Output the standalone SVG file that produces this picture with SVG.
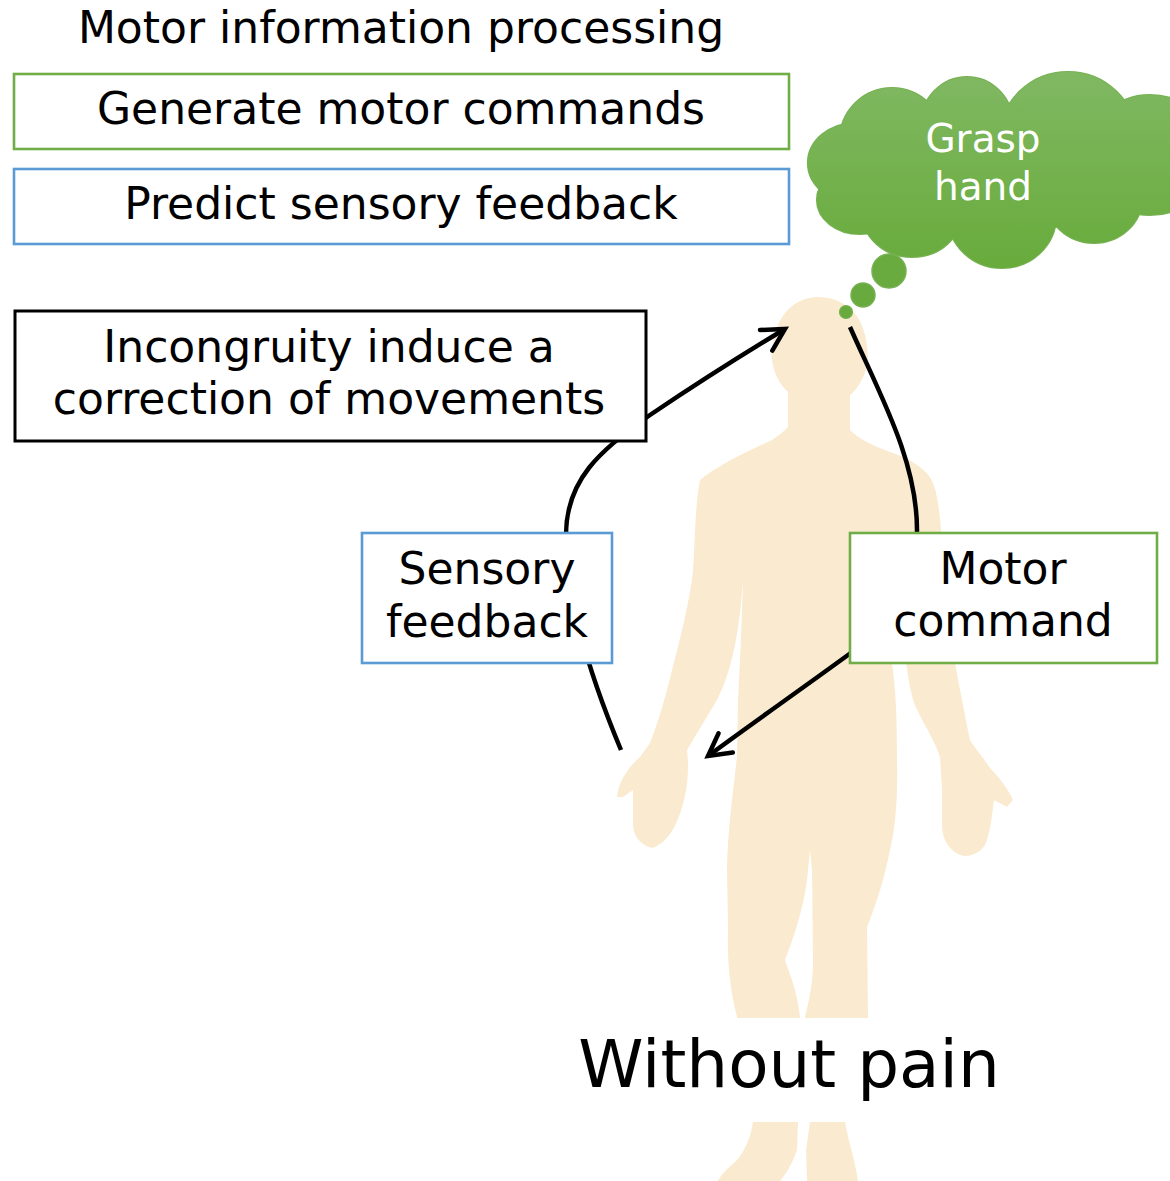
<svg xmlns="http://www.w3.org/2000/svg" width="1170" height="1181" viewBox="0 0 1170 1181">
  <style>
    text { font-family: "DejaVu Sans", Verdana, sans-serif; fill: #000; text-anchor: middle; }
    .lbl { font-size: 44px; }
    .big { font-size: 66px; }
    .cloudtxt { font-size: 39px; fill: #fff; }
    .box { fill: #fff; }
    .green { stroke: #70AD47; stroke-width: 2.6; }
    .blue { stroke: #5B9BD5; stroke-width: 2.6; }
    .black { stroke: #000; stroke-width: 3; }
    .wire { fill: none; stroke: #000; stroke-width: 4.5; stroke-linecap: butt; }
    .lobe-edge { fill: none; stroke: #76B153; stroke-width: 2.2; }
    .lobe { fill: url(#cloudFill); stroke: none; }
  </style>
  <defs>
    <linearGradient id="cloudFill" gradientUnits="userSpaceOnUse" x1="0" y1="72" x2="0" y2="270">
      <stop offset="0" stop-color="#80B862"/>
      <stop offset="1" stop-color="#68AB3B"/>
    </linearGradient>
    <marker id="open-arrow" markerUnits="userSpaceOnUse" markerWidth="40" markerHeight="40" refX="0" refY="0" viewBox="-30 -20 40 40" orient="auto" overflow="visible">
      <path d="M -22,-12 L 0,0 L -22,12" fill="none" stroke="#000" stroke-width="4.5" stroke-linecap="round" stroke-linejoin="miter"/>
    </marker>
  </defs>

  <rect width="1170" height="1181" fill="#fff"/>

  <!-- human figure -->
  <g id="body">
    <path fill="#FAEBD0" d="M818,297
      C842,297 860,312 865,335 C868,350 870,362 865,372 C862,382 856,390 850,395
      L850,430 C858,438 872,446 893,453 C912,460 928,470 933,483
      C940,500 942,540 944,575 C946,620 958,680 970,740
      C978,752 985,760 990,768 C1000,778 1010,792 1013,800 L1007,807 L994,800
      C992,815 990,835 985,845 C980,853 970,858 960,855 C948,850 942,838 942,825
      L942,790 L940,757 C935,740 918,715 913,700 C905,670 903,630 901,600
      C896,605 892,610 888,612 L892,663 C896,690 897,720 897,760
      C898,800 895,830 890,850 C885,875 878,900 867,927 L868,1017
      C868,1060 860,1100 845,1122 C848,1140 855,1160 858,1181
      L807,1181 L806,1150 L810,1122 L806,1040 L805,1017
      C809,1000 813,985 813,960 L812,870 L810,850 L808,870
      C806,900 795,935 785,960 C790,975 797,990 800,1017
      L798,1122 L797,1150 C792,1165 785,1175 780,1181 L718,1181
      C722,1172 732,1165 737,1160 C745,1150 750,1140 753,1122
      C745,1090 738,1050 737,1017 C730,990 727,960 728,930 L727,867
      C728,830 732,800 737,757 L738,700 C740,660 742,620 743,580
      C740,620 735,665 717,700 L687,750
      C689,765 688,785 684,800 C678,825 668,843 652,848 C640,845 633,835 633,825
      L633,790 L623,797 L617,797 C618,785 625,770 640,757 L650,743
      C657,725 665,700 672,670 C680,640 690,600 693,570 C695,540 695,505 700,480
      C715,467 745,452 770,441 C778,437 785,430 788,427 L788,392
      C780,385 775,375 773,365 C770,355 772,345 775,335 C780,312 797,297 818,297 Z"/>
  </g>

  <!-- caption backing and caption -->
  <g id="caption">
    <rect x="572" y="1018" width="436" height="104" fill="#fff"/>
    <text class="big" x="789" y="1087">Without pain</text>
  </g>

  <!-- feedback loop -->
  <g id="connectors">
    <path class="wire" d="M621,750 C598,695 566,610 566,535 C566,480 600,450 650,415 Q720,368 785,329" marker-end="url(#open-arrow)"/>
    <path class="wire" d="M850,327 C880,395 917,460 917,530 C917,590 890,625 848,655 C800,690 750,725 708,756" marker-end="url(#open-arrow)"/>
  </g>

  <g id="title">
    <text class="lbl" x="401" y="43">Motor information processing</text>
  </g>

  <g id="generate">
    <rect class="box green" x="14" y="74" width="775" height="75"/>
    <text class="lbl" x="401" y="124">Generate motor commands</text>
  </g>

  <g id="predict">
    <rect class="box blue" x="14" y="169" width="775" height="75"/>
    <text class="lbl" x="401" y="219">Predict sensory feedback</text>
  </g>

  <g id="incongruity">
    <rect class="box black" x="15" y="311" width="631" height="130"/>
    <text class="lbl" x="329" y="362">Incongruity induce a</text>
    <text class="lbl" x="329" y="414">correction of movements</text>
  </g>

  <g id="sensory">
    <rect class="box blue" x="362" y="533" width="250" height="130"/>
    <text class="lbl" x="487" y="584">Sensory</text>
    <text class="lbl" x="487" y="637">feedback</text>
  </g>

  <g id="motor">
    <rect class="box green" x="850" y="533" width="307" height="130"/>
    <text class="lbl" x="1003" y="584">Motor</text>
    <text class="lbl" x="1003" y="636">command</text>
  </g>

  <!-- thought bubble -->
  <g id="thought">
    <g>
      <ellipse class="lobe-edge" cx="892" cy="140" rx="52" ry="52"/>
      <ellipse class="lobe-edge" cx="967" cy="125" rx="46" ry="48"/>
      <ellipse class="lobe-edge" cx="1068" cy="138" rx="68" ry="66"/>
      <ellipse class="lobe-edge" cx="1150" cy="155" rx="62" ry="60"/>
      <ellipse class="lobe-edge" cx="856" cy="163" rx="48" ry="40"/>
      <ellipse class="lobe-edge" cx="860" cy="200" rx="43" ry="34"/>
      <ellipse class="lobe-edge" cx="912" cy="212" rx="50" ry="45"/>
      <ellipse class="lobe-edge" cx="1002" cy="216" rx="54" ry="52"/>
      <ellipse class="lobe-edge" cx="1094" cy="198" rx="48" ry="45"/>
      <ellipse class="lobe" cx="892" cy="140" rx="52" ry="52"/>
      <ellipse class="lobe" cx="967" cy="125" rx="46" ry="48"/>
      <ellipse class="lobe" cx="1068" cy="138" rx="68" ry="66"/>
      <ellipse class="lobe" cx="1150" cy="155" rx="62" ry="60"/>
      <ellipse class="lobe" cx="856" cy="163" rx="48" ry="40"/>
      <ellipse class="lobe" cx="860" cy="200" rx="43" ry="34"/>
      <ellipse class="lobe" cx="912" cy="212" rx="50" ry="45"/>
      <ellipse class="lobe" cx="1002" cy="216" rx="54" ry="52"/>
      <ellipse class="lobe" cx="1094" cy="198" rx="48" ry="45"/>
      <ellipse class="lobe" cx="995" cy="172" rx="140" ry="62"/>
    </g>
    <circle cx="889" cy="271" r="17" fill="#69AB3E" stroke="#76B153" stroke-width="1.5"/>
    <circle cx="863" cy="295" r="12" fill="#68AA3D" stroke="#76B153" stroke-width="1.5"/>
    <circle cx="846" cy="312" r="6.5" fill="#68AA3D" stroke="#76B153" stroke-width="1.2"/>
    <text class="cloudtxt" x="983" y="152">Grasp</text>
    <text class="cloudtxt" x="983" y="200">hand</text>
  </g>
</svg>
